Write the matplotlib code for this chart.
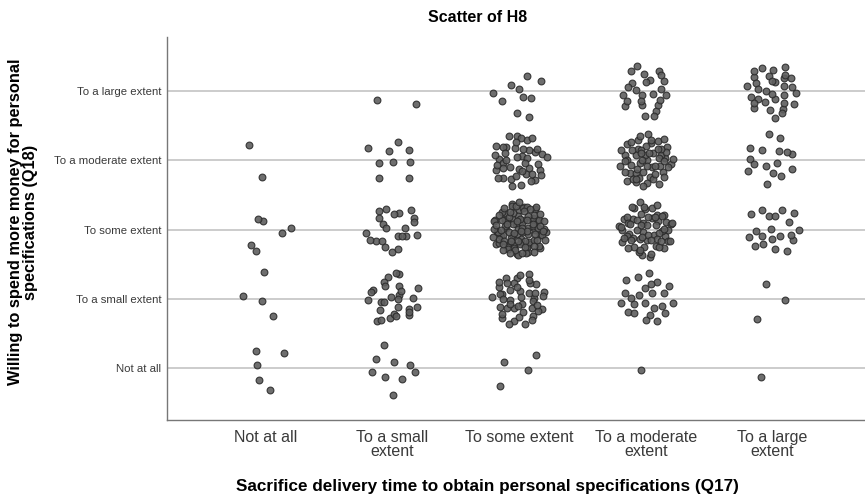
import numpy as np
import matplotlib.pyplot as plt

plt.rcParams['font.family'] = ['Liberation Sans', 'DejaVu Sans']

# categories (1 = Not at all ... 5 = To a large extent)
x_labels = ["Not at all", "To a small\nextent", "To some extent",
            "To a moderate\nextent", "To a large\nextent"]
y_labels = ["Not at all", "To a small extent", "To some extent",
            "To a moderate extent", "To a large extent"]

# number of respondents per cell, one list per Q17 answer,
# ordered by Q18 answer (Not at all -> To a large extent)
counts_not_at_all = [5, 4, 6, 2, 0]
counts_small = [9, 28, 22, 9, 2]
counts_some = [4, 45, 110, 45, 10]
counts_moderate = [1, 24, 65, 60, 25]
counts_large = [1, 3, 20, 16, 32]


def halton(i, base):
    f, r = 1.0, 0.0
    while i > 0:
        f /= base
        r += f * (i % base)
        i //= base
    return r


def jitter(n, start):
    # deterministic spread of n points inside a unit disc
    idx = np.arange(start, start + n) + 1
    u = np.array([halton(k, 2) for k in idx])
    v = np.array([halton(k, 3) for k in idx])
    r = np.sqrt(u)
    return r * np.cos(2 * np.pi * v), r * np.sin(2 * np.pi * v)


def main():
    fig = plt.figure(figsize=(8.65, 5.0), dpi=100)
    ax = fig.add_axes([167 / 865, 80 / 500, 1 - 167 / 865, 383 / 500])

    all_counts = [counts_not_at_all, counts_small, counts_some,
                  counts_moderate, counts_large]
    rx, ry = 0.22, 0.40
    xs, ys = [], []
    start = 0
    for xi, col in enumerate(all_counts, start=1):
        for yi, n in enumerate(col, start=1):
            if n == 0:
                continue
            dx, dy = jitter(n, start)
            start += n + 7
            xs.extend(xi + rx * dx)
            ys.extend(yi + ry * dy)

    for yi in range(1, 6):
        ax.axhline(yi, color="#c4c4c4", lw=1.2, zorder=0)

    ax.scatter(xs, ys, s=24, facecolor="#5e5e5e", edgecolor="#2a2a2a",
               linewidth=0.8, alpha=0.9, zorder=3)

    ax.set_xlim(0.22, 5.73)
    ax.set_ylim(0.25, 5.78)
    ax.set_xticks(range(1, 6))
    ax.set_xticklabels(x_labels, fontsize=11.5, color="#3a3a3a",
                       linespacing=0.95)
    ax.set_yticks(range(1, 6))
    ax.set_yticklabels(y_labels, fontsize=8.2, color="#3a3a3a")
    ax.tick_params(length=0, pad=4)
    ax.tick_params(axis="x", pad=7)

    for side in ["top", "right"]:
        ax.spines[side].set_visible(False)
    for side in ["left", "bottom"]:
        ax.spines[side].set_color("#777777")
        ax.spines[side].set_linewidth(1.0)

    ax.set_xlabel("Sacrifice delivery time to obtain personal specifications (Q17)",
                  fontsize=12.3, fontweight="bold")
    ax.xaxis.set_label_coords((487 - 167) / 698, -0.155)
    ax.set_ylabel("Willing to spend more money for personal\nspecifications (Q18)",
                  fontsize=11.8, fontweight="bold", linespacing=1.0)
    ax.yaxis.set_label_coords((38 - 167) / 698, (420 - 222) / 383)
    fig.text(478 / 865, 0.966, "Scatter of H8", ha="center", va="center",
             fontsize=11.5, fontweight="bold")

    fig.savefig("out.png", dpi=100)


if __name__ == "__main__":
    main()
